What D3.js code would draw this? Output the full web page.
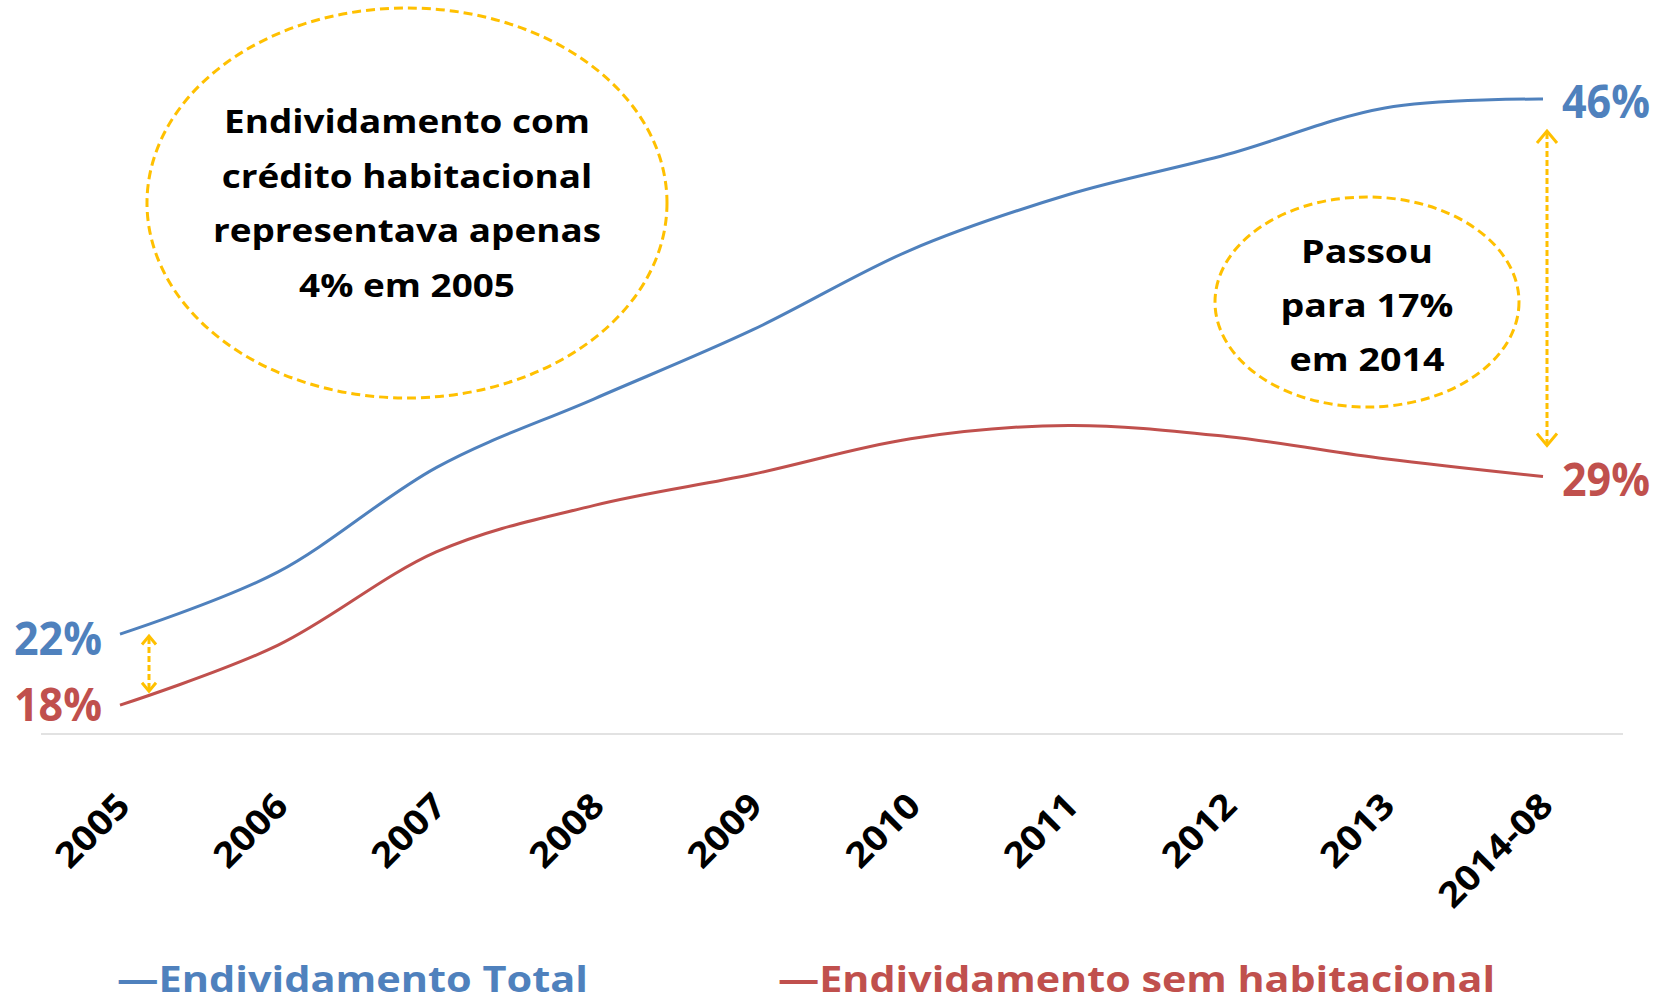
<!DOCTYPE html>
<html>
    <head>
        <meta charset="utf-8">
        <title>Endividamento</title>
        <script src="https://d3js.org/d3.v7.min.js"></script>
        <style>
            body { margin: 0; background: #fff; }
            text { font-family: "Open Sans", Lato, sans-serif; font-weight: 700; }
        </style>
    </head>
    <body>
        <script>

        // Data (% of income)
        const categories = ["2005", "2006", "2007", "2008", "2009", "2010", "2011", "2012", "2013", "2014-08"];
        const total = [21.6, 24.4, 29.1, 32.2, 35.3, 38.9, 41.4, 43.2, 45.3, 45.7];
        const semHabitacional = [18.4, 21.1, 25.3, 27.4, 28.8, 30.4, 31.0, 30.5, 29.5, 28.7];
        const seriesNames = ["Endividamento Total", "Endividamento sem habitacional"];
        const endLabels = { total: ["22%", "46%"], sem: ["18%", "29%"] };
        const noteLeft = ["Endividamento com", "crédito habitacional", "representava apenas", "4% em 2005"];
        const noteRight = ["Passou", "para 17%", "em 2014"];

        const blue = "#4F81BD";
        const red = "#C0504D";
        const orange = "#FFC000";

        const svgWidth = 1671;
        const svgHeight = 1003;
        const axisY = 734;

        const svg = d3.select("body").append("svg")
            .attr("width", svgWidth)
            .attr("height", svgHeight);

        // widen text (the original font is wider than the ones available)
        function stretch(sel, k) {
            sel.each(function () {
                const w = this.getComputedTextLength();
                d3.select(this)
                    .attr("textLength", w * k)
                    .attr("lengthAdjust", "spacingAndGlyphs");
            });
        }
        function factorFor(node, target) {
            return target / node.getComputedTextLength();
        }

        // Scales
        const xScale = d3.scalePoint()
            .domain(categories)
            .range([120, 1543]);

        const yScale = d3.scaleLinear()
            .domain([17.1, 48])
            .range([axisY, 48]);

        // Horizontal axis line + rotated labels
        svg.append("line")
            .attr("x1", 41).attr("x2", 1623)
            .attr("y1", axisY).attr("y2", axisY)
            .attr("stroke", "#D9D9D9")
            .attr("stroke-width", 1.5);

        const ticks = svg.append("g").selectAll("text")
            .data(categories)
            .join("text")
            .attr("transform", d => `translate(${xScale(d) + 12},${axisY + 74}) rotate(-45)`)
            .attr("text-anchor", "end")
            .attr("font-size", 35)
            .attr("fill", "#000")
            .text(d => d);
        stretch(ticks, factorFor(ticks.node(), 88));

        // Lines
        const line = d3.line()
            .x((d, i) => xScale(categories[i]))
            .y(d => yScale(d))
            .curve(d3.curveCatmullRom.alpha(0));

        svg.append("path")
            .datum(total)
            .attr("d", line)
            .attr("fill", "none")
            .attr("stroke", blue)
            .attr("stroke-width", 3);

        svg.append("path")
            .datum(semHabitacional)
            .attr("d", line)
            .attr("fill", "none")
            .attr("stroke", red)
            .attr("stroke-width", 3);

        // End labels
        const first = categories[0];
        const last = categories[categories.length - 1];
        function label(x, y, txt, color, anchor) {
            svg.append("text")
                .attr("x", x).attr("y", y)
                .attr("text-anchor", anchor)
                .attr("font-size", 47)
                .attr("fill", color)
                .text(txt)
                .call(s => stretch(s, 88 / s.node().getComputedTextLength()));
        }
        label(xScale(first) - 18, yScale(total[0]) + 21, endLabels.total[0], blue, "end");
        label(xScale(first) - 18, yScale(semHabitacional[0]) + 16, endLabels.sem[0], red, "end");
        label(xScale(last) + 19, yScale(total[total.length - 1]) + 19, endLabels.total[1], blue, "start");
        label(xScale(last) + 19, yScale(semHabitacional[semHabitacional.length - 1]) + 20, endLabels.sem[1], red, "start");

        // Dashed double arrows showing the gap
        function gapArrow(x, y1, y2, head) {
            const g = svg.append("g")
                .attr("stroke", orange)
                .attr("stroke-width", 3)
                .attr("fill", "none");
            g.append("line")
                .attr("x1", x).attr("x2", x)
                .attr("y1", y1 + 2).attr("y2", y2 - 2)
                .attr("stroke-dasharray", "6 3");
            g.append("path")
                .attr("d", `M${x - head},${y1 + head * 1.2}L${x},${y1}L${x + head},${y1 + head * 1.2}`);
            g.append("path")
                .attr("d", `M${x - head},${y2 - head * 1.2}L${x},${y2}L${x + head},${y2 - head * 1.2}`);
        }
        gapArrow(xScale(first) + 29, yScale(total[0]) + 2, yScale(semHabitacional[0]) - 14, 7);
        gapArrow(xScale(last) + 4, yScale(total[total.length - 1]) + 32, yScale(semHabitacional[semHabitacional.length - 1]) - 31, 10);

        // Callout ellipses
        function callout(cx, cy, rx, ry, lines, firstBaseline, step, size, refWidth) {
            svg.append("ellipse")
                .attr("cx", cx).attr("cy", cy)
                .attr("rx", rx).attr("ry", ry)
                .attr("fill", "none")
                .attr("stroke", orange)
                .attr("stroke-width", 3)
                .attr("stroke-dasharray", "9 5");
            const t = svg.append("g").selectAll("text")
                .data(lines)
                .join("text")
                .attr("x", cx)
                .attr("y", (d, i) => firstBaseline + i * step)
                .attr("text-anchor", "middle")
                .attr("font-size", size)
                .attr("fill", "#000")
                .text(d => d);
            let widest = 0;
            t.each(function () { widest = Math.max(widest, this.getComputedTextLength()); });
            stretch(t, refWidth / widest);
        }
        callout(407, 203, 260, 195, noteLeft, 133, 54.7, 32, 388);
        callout(1367, 302, 152, 105, noteRight, 263, 54, 33, 173);

        // Legend
        const legend = svg.append("g").attr("font-size", 35);
        const legTotal = legend.append("text")
            .attr("x", 117).attr("y", 992)
            .attr("fill", blue)
            .text("\u2014" + seriesNames[0]);
        const legSem = legend.append("text")
            .attr("x", 778).attr("y", 992)
            .attr("fill", red)
            .text("\u2014" + seriesNames[1]);
        stretch(legTotal, factorFor(legTotal.node(), 471));
        stretch(legSem, factorFor(legSem.node(), 717));

        </script>
    </body>
</html>
